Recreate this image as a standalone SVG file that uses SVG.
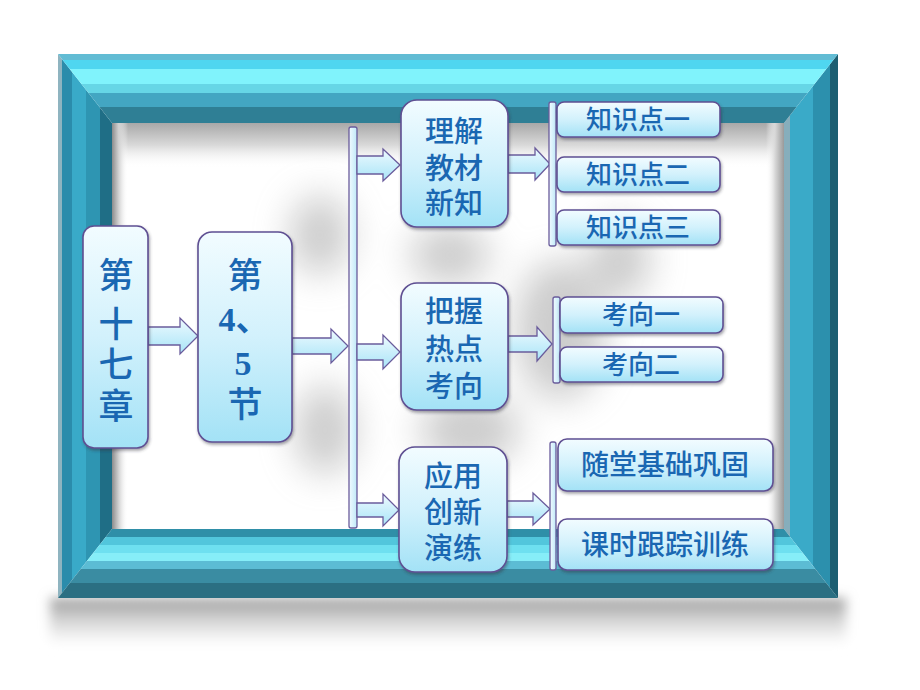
<svg xmlns="http://www.w3.org/2000/svg" width="920" height="690" viewBox="0 0 920 690">
<defs>
<style>
.box{fill:url(#boxg);stroke:#5e4f92;stroke-width:1.6;filter:url(#sh)}
.arr{fill:url(#arrg);stroke:#6a5c9c;stroke-width:1.3}
.bar{fill:url(#barg);stroke:#6a5c9c;stroke-width:1.3}
.t{font-family:"Noto Sans CJK SC","Noto Sans",sans-serif;fill:#1a67b2;font-weight:500;text-anchor:middle}
.d{font-family:"Liberation Serif","Noto Sans CJK SC",serif;fill:#1a67b2;font-weight:bold;text-anchor:middle}
</style>
<linearGradient id="boxg" x1="0" y1="0" x2="0" y2="1">
<stop offset="0" stop-color="#f2fcff"/>
<stop offset="0.5" stop-color="#d2f1fc"/>
<stop offset="1" stop-color="#a3e2f6"/>
</linearGradient>
<linearGradient id="arrg" x1="0" y1="0" x2="0" y2="1">
<stop offset="0" stop-color="#eefaff"/>
<stop offset="1" stop-color="#a8e4f7"/>
</linearGradient>
<linearGradient id="barg" x1="0" y1="0" x2="1" y2="0">
<stop offset="0" stop-color="#f2fbff"/>
<stop offset="1" stop-color="#bfe9f8"/>
</linearGradient>
<linearGradient id="topsh" x1="0" y1="0" x2="0" y2="1">
<stop offset="0" stop-color="#a8a8a8"/>
<stop offset="0.5" stop-color="#dadada"/>
<stop offset="1" stop-color="#ffffff" stop-opacity="0"/>
</linearGradient>
<linearGradient id="leftsh" x1="0" y1="0" x2="1" y2="0">
<stop offset="0" stop-color="#8c8c8c"/>
<stop offset="0.4" stop-color="#cfcfcf"/>
<stop offset="1" stop-color="#ffffff" stop-opacity="0"/>
</linearGradient>
<linearGradient id="rightsh" x1="1" y1="0" x2="0" y2="0">
<stop offset="0" stop-color="#9a9a9a"/>
<stop offset="0.5" stop-color="#d8d8d8"/>
<stop offset="1" stop-color="#ffffff" stop-opacity="0"/>
</linearGradient>
<linearGradient id="botsh" x1="0" y1="0" x2="0" y2="1">
<stop offset="0" stop-color="#9c9c9c"/>
<stop offset="0.5" stop-color="#d6d6d6"/>
<stop offset="1" stop-color="#ffffff"/>
</linearGradient>
<filter id="sh" x="-20%" y="-20%" width="140%" height="150%">
<feDropShadow dx="1" dy="2" stdDeviation="1.5" flood-color="#303040" flood-opacity="0.45"/>
</filter>
<filter id="blur" x="-50%" y="-50%" width="200%" height="200%">
<feGaussianBlur stdDeviation="18"/>
</filter>
<filter id="blur2" x="-20%" y="-50%" width="140%" height="200%">
<feGaussianBlur stdDeviation="6"/>
</filter>
<clipPath id="cTop"><polygon points="58,54 838,54 784,123 112,123"/></clipPath>
<clipPath id="cBot"><polygon points="112,529 784,529 838,598 58,598"/></clipPath>
<clipPath id="cLeft"><polygon points="58,54 112,123 112,529 58,598"/></clipPath>
<clipPath id="cRight"><polygon points="838,54 784,123 784,529 838,598"/></clipPath>
<clipPath id="cIn"><rect x="112" y="123" width="672" height="406"/></clipPath>
</defs>

<g id="background">
<rect x="0" y="0" width="920" height="690" fill="#ffffff"/>
<rect x="50" y="598" width="796" height="46" fill="url(#botsh)" filter="url(#blur2)"/>
<rect x="112" y="123" width="672" height="406" fill="#ffffff"/>
<g clip-path="url(#cIn)">
<g filter="url(#blur)" fill="#9a9a9a" opacity="0.5">
<ellipse cx="320" cy="235" rx="30" ry="40"/>
<ellipse cx="450" cy="255" rx="40" ry="30"/>
<ellipse cx="560" cy="330" rx="45" ry="70"/>
<ellipse cx="325" cy="430" rx="30" ry="45"/>
<ellipse cx="470" cy="430" rx="50" ry="35"/>
<ellipse cx="620" cy="260" rx="30" ry="40"/>
</g>
<rect x="112" y="123" width="672" height="45" fill="url(#topsh)"/>
<rect x="112" y="123" width="16" height="406" fill="url(#leftsh)"/>
<rect x="766" y="123" width="18" height="406" fill="url(#rightsh)"/>
</g>
</g>

<g id="frame">
<g clip-path="url(#cLeft)">
<rect x="58" y="54" width="4" height="544" fill="#8fb4c0"/>
<rect x="62" y="54" width="10" height="544" fill="#2b8cab"/>
<rect x="72" y="54" width="14" height="544" fill="#39aac8"/>
<rect x="86" y="54" width="14" height="544" fill="#2e95b2"/>
<rect x="100" y="54" width="12" height="544" fill="#1f6e86"/>
</g>
<g clip-path="url(#cRight)">
<rect x="784" y="54" width="6" height="544" fill="#86aebc"/>
<rect x="790" y="54" width="23" height="544" fill="#3aaac8"/>
<rect x="813" y="54" width="17" height="544" fill="#2c90ad"/>
<rect x="830" y="54" width="8" height="544" fill="#1d5f72"/>
</g>
<g clip-path="url(#cTop)">
<rect x="58" y="54" width="780" height="6" fill="#62bcd4"/>
<rect x="58" y="60" width="780" height="9" fill="#4fd6f0"/>
<rect x="58" y="69" width="780" height="15" fill="#80f3fc"/>
<rect x="58" y="84" width="780" height="9" fill="#66d6e6"/>
<rect x="58" y="93" width="780" height="14" fill="#43a6c2"/>
<rect x="58" y="107" width="780" height="16" fill="#2f7f95"/>
</g>
<g clip-path="url(#cBot)">
<rect x="58" y="529" width="780" height="8" fill="#2f8fa8"/>
<rect x="58" y="537" width="780" height="8" fill="#52c6dc"/>
<rect x="58" y="545" width="780" height="8" fill="#6ee0f0"/>
<rect x="58" y="553" width="780" height="8" fill="#86eef8"/>
<rect x="58" y="561" width="780" height="8" fill="#5cbcd4"/>
<rect x="58" y="569" width="780" height="14" fill="#3a8ca2"/>
<rect x="58" y="583" width="780" height="15" fill="#2b6f82"/>
</g>
</g>

<g id="connectors">
<path class="arr" d="M148,327 H180 V318 L198,336 L180,354 V345 H148 Z"/>
<path class="arr" d="M292,338 H331 V329 L348,346 L331,363 V354 H292 Z"/>
<rect class="bar" x="349" y="127" width="8" height="401" rx="2"/>
<path class="arr" d="M357,156 H383 V149 L400,165 L383,181 V174 H357 Z"/>
<path class="arr" d="M357,344 H383 V335 L400,352 L383,369 V360 H357 Z"/>
<path class="arr" d="M357,503 H383 V494 L399,510 L383,526 V517 H357 Z"/>
<path class="arr" d="M508,155 H535 V148 L550,164 L535,180 V173 H508 Z"/>
<path class="arr" d="M508,336 H537 V327 L552,344 L537,361 V352 H508 Z"/>
<path class="arr" d="M507,501 H533 V493 L550,509 L533,525 V517 H507 Z"/>
<rect class="bar" x="549" y="102" width="7" height="144" rx="2"/>
<rect class="bar" x="553" y="297" width="7" height="86" rx="2"/>
<rect class="bar" x="550" y="442" width="6" height="128" rx="2"/>
</g>

<g id="node-chapter">
<rect class="box" x="83" y="226" width="65" height="222" rx="11"/>
<text class="t" font-size="35"><tspan x="116" y="288">第</tspan><tspan x="116" y="337">十</tspan><tspan x="116" y="377">七</tspan><tspan x="116" y="419">章</tspan></text>
</g>

<g id="node-section">
<rect class="box" x="198" y="232" width="94" height="210" rx="14"/>
<text class="t" font-size="35"><tspan x="245" y="288">第</tspan><tspan x="245" y="417">节</tspan></text>
<text class="d" font-size="34"><tspan x="244" y="331">4、</tspan><tspan x="243" y="375">5</tspan></text>
</g>

<g id="node-understand">
<rect class="box" x="401" y="100" width="107" height="127" rx="16"/>
<text class="t" font-size="29"><tspan x="454" y="142">理解</tspan><tspan x="454" y="179">教材</tspan><tspan x="454" y="214">新知</tspan></text>
</g>

<g id="node-k1">
<rect class="box" x="557" y="102" width="163" height="35" rx="7"/>
<text class="t" font-size="26" x="638" y="129">知识点一</text>
</g>
<g id="node-k2">
<rect class="box" x="557" y="157" width="163" height="35" rx="7"/>
<text class="t" font-size="26" x="638" y="184">知识点二</text>
</g>
<g id="node-k3">
<rect class="box" x="557" y="210" width="163" height="35" rx="7"/>
<text class="t" font-size="26" x="638" y="237">知识点三</text>
</g>

<g id="node-hot">
<rect class="box" x="401" y="283" width="107" height="127" rx="16"/>
<text class="t" font-size="29"><tspan x="454" y="322">把握</tspan><tspan x="454" y="360">热点</tspan><tspan x="454" y="397">考向</tspan></text>
</g>

<g id="node-d1">
<rect class="box" x="560" y="297" width="163" height="36" rx="7"/>
<text class="t" font-size="26" x="641" y="324">考向一</text>
</g>
<g id="node-d2">
<rect class="box" x="560" y="347" width="163" height="35" rx="7"/>
<text class="t" font-size="26" x="641" y="374">考向二</text>
</g>

<g id="node-apply">
<rect class="box" x="399" y="447" width="108" height="125" rx="16"/>
<text class="t" font-size="29"><tspan x="453" y="487">应用</tspan><tspan x="453" y="523">创新</tspan><tspan x="453" y="559">演练</tspan></text>
</g>

<g id="node-p1">
<rect class="box" x="558" y="439" width="215" height="52" rx="9"/>
<text class="t" font-size="28" x="665" y="475">随堂基础巩固</text>
</g>
<g id="node-p2">
<rect class="box" x="558" y="519" width="215" height="51" rx="9"/>
<text class="t" font-size="28" x="665" y="555">课时跟踪训练</text>
</g>
</svg>
